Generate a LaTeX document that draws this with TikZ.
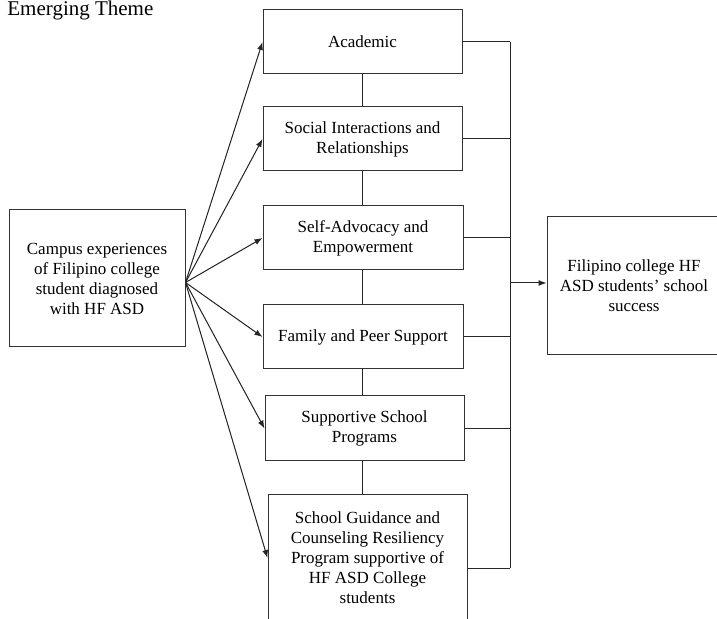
\documentclass[tikz,border=0pt]{standalone}
\usepackage{fontspec}
\setmainfont{Liberation Serif}
\usetikzlibrary{arrows.meta}

\begin{document}
\begin{tikzpicture}[x=0.5pt, y=-0.5pt, font=\fontsize{8.5}{10}\selectfont,
  box/.style={draw=black!80, line width=0.5pt, minimum width=99.5pt, minimum height=32pt, inner sep=1pt, align=center},
  arr/.style={-{Latex[length=4pt, width=3pt]}, line width=0.5pt, draw=black!85, fill=black!85},
  link/.style={line width=0.5pt, draw=black!85},
  title/.style={font=\fontsize{10.5}{12}\selectfont, inner sep=0pt, anchor=base west}]
  \useasboundingbox (0,0) rectangle (717,619);
  \node[title] (ttl) at (7,16) {Emerging Theme};
  % source and outcome
  \node[box, minimum width=88pt, minimum height=68.5pt] (camp) at (97,278.5) {Campus experiences\\of Filipino college\\student diagnosed\\with HF ASD};
  \node[box, minimum width=87pt, minimum height=69pt] (succ) at (634,286) {Filipino college HF\\ASD students’ school\\success};
  % themes
  \node[box] (acad) at (362.5,42) {Academic};
  \node[box] (soc) at (362.5,139) {Social Interactions and\\Relationships};
  \node[box, minimum width=100pt] (adv) at (363,238) {Self-Advocacy and\\Empowerment};
  \node[box, minimum width=100pt] (fam) at (363,337) {Family and Peer Support};
  \node[box, minimum height=32.5pt] (sup) at (364.5,428.5) {Supportive School\\Programs};
  \node[box, minimum height=63pt] (guid) at (367.5,558) {School Guidance and\\Counseling Resiliency\\Program supportive of\\HF ASD College\\students};
  % fan out
  \coordinate (src) at ([yshift=-2pt]camp.east);
  \foreach \t in {acad,soc,adv,fam,sup,guid}
    \draw[arr] (src) -- (\t.west);
  % chain of themes
  \foreach \a/\b in {acad/soc,soc/adv,adv/fam,fam/sup,sup/guid}
    \draw[link] (\a.south -| acad) -- (\b.north -| acad);
  % bus to outcome
  \coordinate (hub) at (510,283);
  \coordinate (gout) at ([yshift=-5pt]guid.east);
  \foreach \t in {acad,soc,adv,fam,sup}
    \draw[link] (\t.east) -- (\t.east -| hub);
  \draw[link] (gout) -- (gout -| hub);
  \draw[link] (acad.east -| hub) -- (gout -| hub);
  \draw[arr] (hub) -- (hub -| succ.west);
\end{tikzpicture}
\end{document}
